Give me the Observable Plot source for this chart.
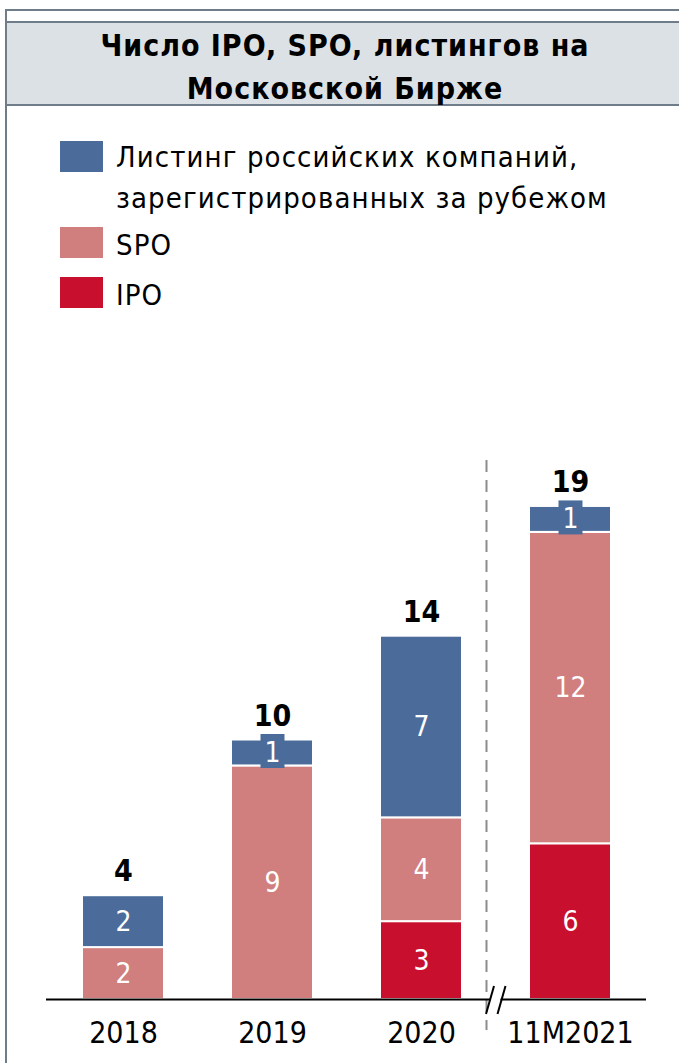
<!DOCTYPE html>
<html>
<head>
<meta charset="utf-8">
<script src="https://cdn.jsdelivr.net/npm/d3@7"></script>
<script src="https://cdn.jsdelivr.net/npm/@observablehq/plot@0.6"></script>
<style>
  html, body { margin: 0; padding: 0; background: #fff; width: 679px; height: 1063px; overflow: hidden; }
  body { position: relative; font-family: "DejaVu Sans Condensed", "DejaVu Sans", sans-serif; color: #000; }
  #frame { position: absolute; left: 5px; top: 9px; width: 720px; height: 1100px;
           border-left: 2px solid #6f7d8b; border-top: 2px solid #6f7d8b; box-sizing: border-box; }
  #titlebox { position: absolute; left: 5px; top: 21px; width: 720px; height: 85px; box-sizing: border-box;
              background: #dce1e6; border-top: 2px solid #6f7d8b; border-bottom: 2px solid #6f7d8b; border-left: 2px solid #6f7d8b; }
  #title { position: absolute; left: 0; top: 24px; width: 690px; text-align: center;
           font-weight: bold; font-size: 30px; line-height: 43px; letter-spacing: 1px; }
  .lg-sw { position: absolute; left: 60px; width: 43px; height: 31px; }
  .lg-tx { position: absolute; left: 116px; font-size: 29px; line-height: 41px; white-space: nowrap; letter-spacing: 1.1px; }
  #chart { position: absolute; left: 0; top: 430px; }
</style>
</head>
<body>
<div id="frame"></div>
<div id="titlebox"></div>
<div id="title"></div>
<div id="legend"></div>
<div id="chart"></div>
<script>
// ---- data ----
const titleLines = ["Число IPO, SPO, листингов на", "Московской Бирже"];
const years = ["2018", "2019", "2020", "11M2021"];
const types = ["IPO", "SPO", "Листинг"];
const ipo = [0, 0, 3, 6];
const spo = [2, 9, 4, 12];
const listing = [2, 1, 7, 1];
const colors = ["#c8102e", "#d17e7e", "#4b6c9b"];
const legendLines = [
  ["Листинг российских компаний,", "зарегистрированных за рубежом"],
  ["SPO"],
  ["IPO"]
];
const legendTypes = ["Листинг", "SPO", "IPO"];

// ---- derived table ----
const series = {IPO: ipo, SPO: spo, "Листинг": listing};
const data = years.flatMap((year, i) =>
  types.map(type => ({year, type, value: series[type][i]}))
).filter(d => d.value > 0);
const totals = years.map((year, i) => ({year, total: ipo[i] + spo[i] + listing[i]}));

// ---- title ----
document.getElementById("title").innerHTML = titleLines.join("<br>");

// ---- legend ----
const legend = document.getElementById("legend");
const swTops = [141, 227, 277];
const txTops = [137, 225, 275];
legendTypes.forEach((t, i) => {
  const sw = document.createElement("div");
  sw.className = "lg-sw";
  sw.style.top = swTops[i] + "px";
  sw.style.background = colors[types.indexOf(t)];
  legend.appendChild(sw);
  const tx = document.createElement("div");
  tx.className = "lg-tx";
  tx.style.top = txTops[i] + "px";
  tx.innerHTML = legendLines[i].join("<br>");
  legend.appendChild(tx);
});

// ---- chart ----
const ff = '"DejaVu Sans Condensed", "DejaVu Sans", sans-serif';
const stackOpts = {x: "year", y: "value", z: "type", order: types};

const breakMark = (index, scales, values, dims) => {
  const x = scales.x, y = scales.y;
  const xm = (x("2020") + x.bandwidth() + x("11M2021")) / 2;
  const y0 = y(0);
  const g = d3.create("svg:g");
  g.append("rect").attr("x", xm - 5).attr("y", y0 - 3).attr("width", 10).attr("height", 6).attr("fill", "white");
  [-5.5, 6].forEach(o => {
    g.append("line")
      .attr("x1", xm + o - 4).attr("y1", y0 + 15)
      .attr("x2", xm + o + 4).attr("y2", y0 - 13)
      .attr("stroke", "#000").attr("stroke-width", 2);
  });
  return g.node();
};

const chart = Plot.plot({
  width: 679,
  height: 633,
  marginLeft: 46,
  marginRight: 33,
  marginTop: 50,
  marginBottom: 64,
  style: {fontFamily: ff, background: "transparent", overflow: "visible"},
  x: {domain: years, paddingInner: 0.453, paddingOuter: 0.2267, label: null},
  y: {domain: [0, 20], axis: null},
  color: {domain: types, range: colors},
  marks: [
    Plot.ruleX(["11M2021"], {x: d => d, dx: -84, stroke: "#8c8c8c", strokeWidth: 2,
      strokeDasharray: "12,8", insetTop: -20, insetBottom: -31}),
    Plot.barY(data, {...stackOpts, fill: "type", stroke: "white", strokeWidth: 2}),
    Plot.dot(data, Plot.filter(d => d.value === 1, Plot.stackY({
      ...stackOpts,
      fill: colors[2],
      symbol: {draw(ctx) { ctx.moveTo(-12, -19); ctx.lineTo(12, -19); ctx.lineTo(12, 15); ctx.lineTo(-12, 15); ctx.closePath(); }},
      r: 5
    }))),
    Plot.text(data, Plot.stackY({...stackOpts, text: "value", fill: "white", fontSize: 28})),
    Plot.text(totals, {x: "year", y: "total", text: "total", dy: -24, fontSize: 30, fontWeight: "bold", fill: "#000"}),
    Plot.ruleY([0], {stroke: "#000", strokeWidth: 2}),
    breakMark,
    Plot.axisX({tickSize: 0, tickPadding: 22, fontSize: 30, fill: "#000", label: null})
  ]
});
document.getElementById("chart").appendChild(chart);
</script>
</body>
</html>
